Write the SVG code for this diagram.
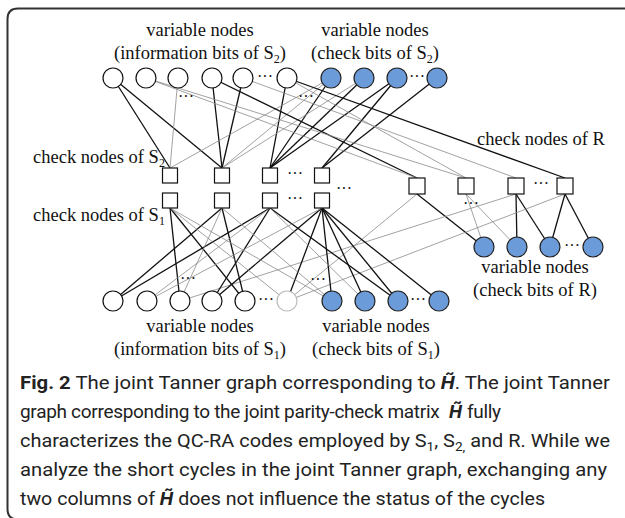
<svg xmlns="http://www.w3.org/2000/svg" width="625" height="518" viewBox="0 0 625 518">
<style>
.b{stroke:#111;stroke-width:1.3;fill:none}
.t{stroke:#8a8a8a;stroke-width:0.8;fill:none}
.vw{fill:#fff;stroke:#111;stroke-width:1.2}
.vl{fill:#fff;stroke:#bbb;stroke-width:1.2}
.vb{fill:#6c9bd9;stroke:#222;stroke-width:1.2}
.sq{fill:#fff;stroke:#111;stroke-width:1.2}
.lbl{font-family:"Liberation Serif","Times New Roman",serif;font-size:18.5px;fill:#111}
.mid{text-anchor:middle}
.dots{font-family:"Liberation Serif",serif;font-size:16px;fill:#111;text-anchor:middle}
.cap{font-family:Roboto,"Open Sans",sans-serif;font-size:19px;fill:#222}
.cap2{font-family:Roboto,"Open Sans",sans-serif;font-size:19px;letter-spacing:-0.3px;fill:#222}
.hh{font-weight:bold;font-style:italic}
</style>
<path d="M630,8.5 H18 Q7.5,8.5 7.5,19 V509 Q7.5,519.5 18,519.5 H630" fill="none" stroke="#333" stroke-width="2"/>

<g id="connectors">
  <line class="b" x1="113" y1="78" x2="170" y2="168"/>
  <line class="b" x1="113" y1="78" x2="222" y2="168"/>
  <line class="b" x1="212" y1="78" x2="222" y2="168"/>
  <line class="b" x1="243" y1="78" x2="222" y2="168"/>
  <line class="b" x1="287" y1="78" x2="270" y2="168"/>
  <line class="b" x1="331" y1="78" x2="270" y2="168"/>
  <line class="b" x1="364" y1="78" x2="270" y2="168"/>
  <line class="b" x1="397" y1="78" x2="270" y2="168"/>
  <line class="b" x1="397" y1="78" x2="322" y2="168"/>
  <line class="b" x1="437" y1="78" x2="322" y2="168"/>
  <line class="t" x1="178" y1="78" x2="170" y2="168"/>
  <line class="t" x1="331" y1="78" x2="170" y2="168"/>
  <line class="t" x1="331" y1="78" x2="222" y2="168"/>
  <line class="t" x1="364" y1="78" x2="222" y2="168"/>
  <line class="b" x1="212" y1="78" x2="417" y2="178"/>
  <line class="b" x1="287" y1="78" x2="565" y2="178"/>
  <line class="t" x1="146" y1="78" x2="417" y2="178"/>
  <line class="t" x1="146" y1="78" x2="466" y2="178"/>
  <line class="t" x1="243" y1="78" x2="516" y2="178"/>
  <line class="t" x1="287" y1="78" x2="466" y2="178"/>
  <line class="b" x1="417" y1="194" x2="484" y2="247"/>
  <line class="t" x1="466" y1="194" x2="484" y2="247"/>
  <line class="t" x1="466" y1="194" x2="517" y2="247"/>
  <line class="b" x1="516" y1="194" x2="517" y2="247"/>
  <line class="b" x1="516" y1="194" x2="550" y2="247"/>
  <line class="b" x1="565" y1="194" x2="550" y2="247"/>
  <line class="b" x1="565" y1="194" x2="593" y2="247"/>
  <line class="t" x1="417" y1="194" x2="287" y2="301"/>
  <line class="t" x1="516" y1="194" x2="180" y2="301"/>
  <line class="t" x1="565" y1="194" x2="287" y2="301"/>
  <line class="b" x1="170" y1="208" x2="180" y2="301"/>
  <line class="b" x1="170" y1="208" x2="245" y2="301"/>
  <line class="b" x1="222" y1="208" x2="113" y2="301"/>
  <line class="b" x1="222" y1="208" x2="245" y2="301"/>
  <line class="b" x1="270" y1="208" x2="113" y2="301"/>
  <line class="b" x1="270" y1="208" x2="212" y2="301"/>
  <line class="b" x1="270" y1="208" x2="398" y2="301"/>
  <line class="b" x1="322" y1="208" x2="212" y2="301"/>
  <line class="b" x1="322" y1="208" x2="287" y2="301"/>
  <line class="b" x1="322" y1="208" x2="332" y2="301"/>
  <line class="b" x1="322" y1="208" x2="365" y2="301"/>
  <line class="b" x1="322" y1="208" x2="398" y2="301"/>
  <line class="b" x1="322" y1="208" x2="439" y2="301"/>
  <line class="t" x1="170" y1="208" x2="287" y2="301"/>
  <line class="t" x1="170" y1="208" x2="332" y2="301"/>
  <line class="t" x1="222" y1="208" x2="180" y2="301"/>
  <line class="t" x1="222" y1="208" x2="332" y2="301"/>
  <line class="t" x1="270" y1="208" x2="147" y2="301"/>
  <line class="t" x1="270" y1="208" x2="365" y2="301"/>
  <line class="t" x1="322" y1="208" x2="147" y2="301"/>
</g>

<g id="var-S2-info">
  <circle class="vw" cx="113" cy="78" r="10"/>
  <circle class="vw" cx="146" cy="78" r="10"/>
  <circle class="vw" cx="178" cy="78" r="10"/>
  <circle class="vw" cx="212" cy="78" r="10"/>
  <circle class="vw" cx="243" cy="78" r="10"/>
  <circle class="vw" cx="287" cy="78" r="10"/>
</g>
<g id="var-S2-check">
  <circle class="vb" cx="331" cy="78" r="10"/>
  <circle class="vb" cx="364" cy="78" r="10"/>
  <circle class="vb" cx="397" cy="78" r="10"/>
  <circle class="vb" cx="437" cy="78" r="10"/>
</g>
<g id="check-S2">
  <rect class="sq" x="162.5" y="168" width="15" height="15"/>
  <rect class="sq" x="214.5" y="168" width="15" height="15"/>
  <rect class="sq" x="262.5" y="168" width="15" height="15"/>
  <rect class="sq" x="314.5" y="168" width="15" height="15"/>
</g>
<g id="check-S1">
  <rect class="sq" x="162.5" y="193" width="15" height="15"/>
  <rect class="sq" x="214.5" y="193" width="15" height="15"/>
  <rect class="sq" x="262.5" y="193" width="15" height="15"/>
  <rect class="sq" x="314.5" y="193" width="15" height="15"/>
</g>
<g id="check-R">
  <rect class="sq" x="409" y="178" width="16" height="16"/>
  <rect class="sq" x="458" y="178" width="16" height="16"/>
  <rect class="sq" x="508" y="178" width="16" height="16"/>
  <rect class="sq" x="557" y="178" width="16" height="16"/>
</g>
<g id="var-R-check">
  <circle class="vb" cx="484" cy="247" r="10"/>
  <circle class="vb" cx="517" cy="247" r="10"/>
  <circle class="vb" cx="550" cy="247" r="10"/>
  <circle class="vb" cx="593" cy="247" r="10"/>
</g>
<g id="var-S1-info">
  <circle class="vw" cx="113" cy="301" r="10"/>
  <circle class="vw" cx="147" cy="301" r="10"/>
  <circle class="vw" cx="180" cy="301" r="10"/>
  <circle class="vw" cx="212" cy="301" r="10"/>
  <circle class="vw" cx="245" cy="301" r="10"/>
  <circle class="vl" cx="287" cy="301" r="10"/>
</g>
<g id="var-S1-check">
  <circle class="vb" cx="332" cy="301" r="10"/>
  <circle class="vb" cx="365" cy="301" r="10"/>
  <circle class="vb" cx="398" cy="301" r="10"/>
  <circle class="vb" cx="439" cy="301" r="10"/>
</g>

<g id="dots">
  <text class="dots" x="265" y="82">···</text>
  <text class="dots" x="417" y="82">···</text>
  <text class="dots" x="186" y="102">···</text>
  <text class="dots" x="306" y="102">···</text>
  <text class="dots" x="295" y="179">···</text>
  <text class="dots" x="344" y="194">···</text>
  <text class="dots" x="295" y="204">···</text>
  <text class="dots" x="541" y="189">···</text>
  <text class="dots" x="471" y="209">···</text>
  <text class="dots" x="572" y="251">···</text>
  <text class="dots" x="188" y="284">···</text>
  <text class="dots" x="318" y="285">···</text>
  <text class="dots" x="266" y="305">···</text>
  <text class="dots" x="418" y="305">···</text>
</g>

<g id="labels">
  <text class="lbl mid" x="200" y="36">variable nodes</text>
  <text class="lbl mid" x="200" y="59">(information bits of S<tspan font-size="12" dy="4">2</tspan><tspan dy="-4">)</tspan></text>
  <text class="lbl mid" x="375" y="36">variable nodes</text>
  <text class="lbl mid" x="375" y="59">(check bits of S<tspan font-size="12" dy="4">2</tspan><tspan dy="-4">)</tspan></text>
  <text class="lbl" x="477" y="145">check nodes of R</text>
  <text class="lbl" x="33" y="163">check nodes of S<tspan font-size="12" dy="4">2</tspan></text>
  <text class="lbl" x="33" y="221">check nodes of S<tspan font-size="12" dy="4">1</tspan></text>
  <text class="lbl mid" x="535" y="273">variable nodes</text>
  <text class="lbl mid" x="535" y="296">(check bits of R)</text>
  <text class="lbl mid" x="200" y="332">variable nodes</text>
  <text class="lbl mid" x="200" y="355">(information bits of S<tspan font-size="12" dy="4">1</tspan><tspan dy="-4">)</tspan></text>
  <text class="lbl mid" x="376" y="332">variable nodes</text>
  <text class="lbl mid" x="376" y="355">(check bits of S<tspan font-size="12" dy="4">1</tspan><tspan dy="-4">)</tspan></text>
</g>

<g id="caption">
  <text class="cap" x="20" y="389" textLength="590" lengthAdjust="spacingAndGlyphs"><tspan font-weight="bold">Fig. 2</tspan> The joint Tanner graph corresponding to <tspan class="hh">H̃</tspan>. The joint Tanner</text>
  <text class="cap2" x="20" y="418">graph corresponding to the joint parity-check matrix</text>
  <text class="cap hh" x="449" y="418">H̃</text>
  <text class="cap2" x="467" y="418">fully</text>
  <text class="cap" x="20" y="447" textLength="590" lengthAdjust="spacingAndGlyphs">characterizes the QC-RA codes employed by S<tspan font-size="13" dy="4">1</tspan><tspan dy="-4">, S</tspan><tspan font-size="13" dy="4">2,</tspan><tspan dy="-4"> and R. While we</tspan></text>
  <text class="cap" x="20" y="476" textLength="587" lengthAdjust="spacingAndGlyphs">analyze the short cycles in the joint Tanner graph, exchanging any</text>
  <text class="cap" x="20" y="505" textLength="525" lengthAdjust="spacingAndGlyphs">two columns of <tspan class="hh">H̃</tspan> does not influence the status of the cycles</text>
</g>
</svg>
